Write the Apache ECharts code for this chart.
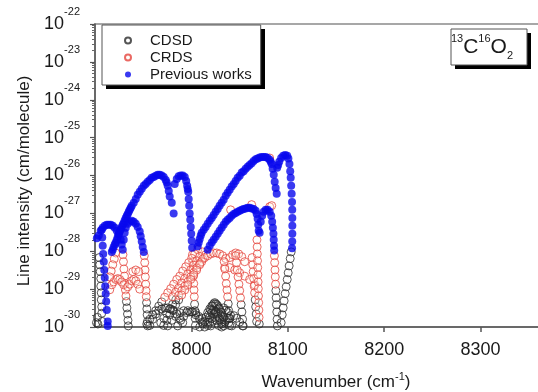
<!DOCTYPE html>
<html>
<head>
<meta charset="utf-8">
<script src="https://cdn.jsdelivr.net/npm/echarts@6/dist/echarts.min.js"></script>
<style>
html,body{margin:0;padding:0;background:#fff;}
#chart{width:538px;height:392px;}
</style>
</head>
<body>
<div id="chart"></div>
<script>
// ---------- axis ticks ----------
const xTicks = [8000, 8100, 8200, 8300];
const yDecades = [-30, -29, -28, -27, -26, -25, -24, -23, -22]; // labels 10^n

// ---------- Previous works (blue) : [wavenumber cm-1, intensity cm/molecule] ----------
const prevSteep = [[7907.0,3.7e-28],[7907.5,2.3e-28],[7908.0,1.4e-28],[7908.5,8.5e-29],[7909.1,5.3e-29],[7909.6,3.2e-29],[7910.1,2.0e-29],[7910.6,1.2e-29],[7911.1,7.6e-30],[7911.6,4.7e-30],[7912.2,2.8e-30],[7913.2,1.4e-30],[7913.2,1.07e-30]];
const prevSmallP = [[7901.9,2.2e-28],[7903.9,2.6e-28],[7905.9,3.5e-28],[7908.0,4.2e-28],[7910.1,4.7e-28],[7912.2,5.0e-28],[7914.2,5.0e-28],[7916.3,5.0e-28],[7918.4,4.7e-28],[7920.5,4.2e-28],[7922.6,3.5e-28],[7924.6,2.8e-28],[7926.7,2.0e-28],[7927.7,1.5e-28],[7928.8,1.1e-28]];
const prevSmallR = [[7929.8,2.0e-28],[7930.8,3.1e-28],[7931.9,4.2e-28],[7934.0,5.3e-28],[7936.0,6.0e-28],[7938.1,6.4e-28],[7940.2,6.0e-28],[7942.3,5.3e-28],[7944.3,4.4e-28],[7946.4,3.3e-28],[7947.4,2.5e-28],[7948.5,1.8e-28],[7949.5,1.3e-28],[7950.6,9.6e-29]];
const prevBand1P = [[7917.4,9.6e-29],[7918.4,1.1e-28],[7919.4,1.3e-28],[7920.5,1.5e-28],[7921.5,1.7e-28],[7922.6,2.0e-28],[7923.6,2.4e-28],[7924.6,2.8e-28],[7925.7,3.3e-28],[7926.7,3.8e-28],[7927.7,4.4e-28],[7928.8,5.0e-28],[7929.8,5.6e-28],[7930.8,6.5e-28],[7931.9,7.6e-28],[7933.0,8.6e-28],[7934.0,9.7e-28],[7935.0,1.1e-27],[7936.0,1.24e-27],[7937.1,1.4e-27],[7938.1,1.6e-27],[7940.2,1.9e-27],[7942.3,2.4e-27],[7944.3,3.1e-27],[7946.4,3.7e-27],[7948.5,4.5e-27],[7950.6,5.4e-27],[7952.6,6.0e-27],[7954.7,6.8e-27],[7956.8,7.6e-27],[7958.8,8.7e-27],[7960.9,9.1e-27],[7963.0,9.8e-27],[7965.1,1.04e-26],[7967.1,1.04e-26],[7969.2,1.0e-26],[7971.3,9.1e-27],[7973.4,7.6e-27],[7974.4,6.5e-27],[7975.4,5.4e-27],[7976.5,3.9e-27],[7977.5,2.8e-27],[7979.6,1.9e-27],[7981.6,1.0e-27]];
const prevBand1R = [[7982.7,6.0e-27],[7984.8,8.1e-27],[7986.8,9.6e-27],[7988.9,1.0e-26],[7991.0,1.0e-26],[7993.1,9.1e-27],[7994.6,7.2e-27],[7995.6,5.4e-27],[7996.2,4.4e-27],[7996.7,3.7e-27],[7997.2,2.4e-27],[7997.7,1.6e-27],[7998.2,1.0e-27],[7998.8,6.8e-28],[7999.3,4.4e-28],[7999.8,2.9e-28],[8000.3,1.9e-28],[8000.8,1.24e-28]];
const prevBand2P = [[8006.5,1.35e-28],[8007.6,1.7e-28],[8008.6,2.1e-28],[8009.7,2.6e-28],[8010.7,3.1e-28],[8012.8,3.7e-28],[8014.8,4.4e-28],[8016.9,5.3e-28],[8019.0,6.4e-28],[8021.1,7.6e-28],[8023.1,9.1e-28],[8025.2,1.1e-27],[8027.3,1.3e-27],[8029.3,1.6e-27],[8031.4,1.9e-27],[8033.5,2.3e-27],[8035.6,2.9e-27],[8037.6,3.5e-27],[8039.7,4.2e-27],[8041.8,5.1e-27],[8043.9,6.0e-27],[8045.9,7.2e-27],[8048.0,8.7e-27],[8050.1,9.8e-27],[8052.2,1.2e-26],[8054.2,1.3e-26],[8056.3,1.5e-26],[8058.4,1.7e-26],[8060.4,1.9e-26],[8062.5,2.1e-26],[8064.6,2.4e-26],[8066.7,2.7e-26],[8068.7,2.8e-26],[8070.8,3.0e-26],[8072.9,3.1e-26],[8075.0,3.1e-26],[8077.1,3.1e-26],[8079.1,2.9e-26],[8081.2,2.6e-26],[8082.3,2.3e-26],[8083.3,2.0e-26],[8084.3,1.5e-26],[8085.4,1.04e-26],[8086.4,6.8e-27],[8087.4,4.7e-27],[8088.5,3.3e-27]];
const prevBand2R = [[8089.0,1.6e-26],[8090.0,1.9e-26],[8091.1,2.3e-26],[8093.1,2.9e-26],[8095.2,3.3e-26],[8097.3,3.5e-26],[8099.4,3.3e-26],[8100.6,2.8e-26],[8101.7,2.0e-26],[8102.5,1.3e-26],[8103.0,8.7e-27],[8103.5,5.4e-27],[8104.0,3.3e-27],[8104.4,2.0e-27],[8104.6,1.24e-27],[8104.7,7.6e-28],[8104.7,4.7e-28],[8104.7,2.9e-28],[8104.6,1.8e-28],[8104.4,1.2e-28]];
const prevBand3P = [[8016.9,1.1e-28],[8019.0,1.4e-28],[8021.1,1.7e-28],[8023.1,2.0e-28],[8025.2,2.4e-28],[8027.3,2.9e-28],[8029.3,3.5e-28],[8031.4,4.2e-28],[8033.5,5.0e-28],[8035.6,6.0e-28],[8037.6,6.8e-28],[8039.7,7.6e-28],[8041.8,8.6e-28],[8043.9,9.7e-28],[8045.9,1.03e-27],[8048.0,1.1e-27],[8050.1,1.17e-27],[8052.2,1.24e-27],[8054.2,1.3e-27],[8056.3,1.35e-27],[8058.4,1.4e-27],[8060.4,1.4e-27],[8062.5,1.35e-27],[8064.6,1.3e-27],[8066.7,1.17e-27],[8067.7,9.7e-28],[8068.7,7.2e-28],[8069.3,5.0e-28],[8069.8,3.5e-28],[8070.8,3.1e-28]];
const prevBand3R = [[8071.9,6.0e-28],[8073.4,8.6e-28],[8075.0,1.1e-27],[8077.1,1.24e-27],[8079.1,1.24e-27],[8081.2,1.1e-27],[8082.8,8.6e-28],[8083.8,6.0e-28],[8084.5,4.2e-28],[8085.1,2.9e-28],[8085.4,2.0e-28],[8085.7,1.4e-28],[8085.9,1.05e-28]];

// ---------- CRDS (red) ----------
const crdsA = [[7929.0,8.1e-29],[7929.5,5.3e-29],[7930.0,3.4e-29],[7930.6,2.2e-29],[7931.1,1.4e-29],[7931.6,9.5e-30],[7932.1,6.6e-30]];
const crdsB = [[7951.1,7.6e-29],[7951.6,5.0e-29],[7951.9,3.2e-29],[7952.2,2.1e-29],[7952.6,1.35e-29],[7952.9,9.1e-30],[7953.2,6.3e-30]];
const crdsWeakLeft = [[7915.3,9.6e-30],[7917.4,1.3e-29],[7919.4,1.55e-29],[7921.5,1.8e-29],[7923.6,1.9e-29],[7925.7,1.8e-29],[7927.7,1.55e-29],[7929.8,1.3e-29],[7934.0,1.15e-29],[7936.0,1.35e-29],[7938.1,1.65e-29],[7940.2,1.8e-29],[7942.3,1.65e-29],[7944.3,1.35e-29],[7946.4,1.0e-29]];
const crdsLeftExtra = [[7921.5,9.0e-29],[7920.0,6.3e-29],[7918.4,4.4e-29],[7916.8,3.0e-29],[7915.3,2.1e-29],[7939.2,2.9e-29],[7942.3,3.2e-29],[7945.4,2.9e-29]];
const crdsE = [[8001.1,8.1e-29],[8001.5,5.3e-29],[8001.8,3.4e-29],[8002.1,2.2e-29],[8002.4,1.4e-29],[8002.7,9.5e-30],[8003.0,6.3e-30]];
const crdsF = [[8006.5,1.1e-28],[8003.4,8.5e-29],[8000.3,6.5e-29],[7997.2,5.0e-29],[7994.1,3.9e-29],[7991.0,3.0e-29],[7987.9,2.2e-29],[7984.8,1.8e-29],[7981.6,1.35e-29],[7978.5,1.03e-29],[7975.4,8.0e-30],[7972.3,6.1e-30]];
const crdsMid = [[8011.7,9.6e-29],[8008.6,7.3e-29],[8005.5,5.6e-29],[8002.4,4.3e-29],[7999.3,3.2e-29],[7996.2,2.5e-29],[7993.1,1.9e-29],[7989.9,1.45e-29],[7986.8,1.07e-29],[7983.7,8.3e-30],[7980.6,6.3e-30]];
const crdsG = [[8014.8,8.1e-29],[8011.7,6.2e-29],[8008.6,4.7e-29],[8005.5,3.6e-29],[8002.4,2.7e-29],[7999.3,2.1e-29],[7996.2,1.55e-29],[7993.1,1.2e-29],[7989.9,9.1e-30],[7986.8,6.8e-30]];
const crdsH = [[8010.7,5.3e-29],[8013.8,6.8e-29],[8016.9,7.6e-29],[8020.0,8.5e-29],[8023.1,9.0e-29],[8026.2,9.0e-29],[8029.3,8.5e-29],[8032.4,7.6e-29],[8035.6,6.4e-29],[8039.7,6.8e-29],[8042.8,8.1e-29],[8045.9,9.0e-29],[8049.0,8.5e-29],[8052.2,7.2e-29],[8055.3,5.3e-29]];
const crdsI = [[8008.6,4.4e-29],[8005.5,3.2e-29],[8002.4,2.4e-29],[7999.3,1.8e-29],[7996.2,1.3e-29],[7993.1,9.5e-30],[7989.9,7.0e-30]];
const crdsJ = [[8034.5,3.7e-29],[8039.7,3.7e-29],[8044.9,3.2e-29],[8050.1,2.7e-29],[8055.3,2.2e-29],[8060.4,1.8e-29],[8065.6,1.3e-29]];
const crdsK = [[8034.0,5.3e-29],[8034.7,3.4e-29],[8035.5,2.2e-29],[8036.2,1.4e-29],[8036.9,9.5e-30],[8037.6,6.3e-30]];
const crdsL = [[8045.9,7.6e-29],[8046.8,5.0e-29],[8047.6,3.2e-29],[8048.4,2.1e-29],[8049.3,1.35e-29],[8050.1,9.1e-30],[8050.9,5.9e-30]];
const crdsL2 = [[8063.0,6.8e-29],[8063.6,4.4e-29],[8064.1,2.9e-29],[8064.6,1.9e-29],[8065.1,1.2e-29],[8065.6,8.0e-30]];
const crdsM = [[8068.0,2.0e-28],[8068.2,1.3e-28],[8068.4,8.5e-29],[8068.6,5.6e-29],[8068.8,3.7e-29],[8069.0,2.4e-29],[8069.2,1.55e-29],[8069.4,1.03e-29],[8069.6,6.6e-30],[8069.8,4.4e-30],[8070.0,2.8e-30],[8070.2,1.8e-30]];
const crdsN = [[8086.1,7.6e-29],[8086.4,5.0e-29],[8086.7,3.2e-29],[8087.0,2.1e-29],[8087.3,1.35e-29]];
const crdsPeaks = [[8040.7,1.24e-27],[8062.5,1.7e-27],[8081.2,2.9e-26],[8081.2,1.5e-27],[8083.3,1.6e-27]];

// ---------- CDSD (black) ----------
const cdsdLeft = [[7901.5,1.3e-30],[7902.5,1.8e-30],[7903.0,1.2e-30],[7904.4,6.8e-29],[7904.9,4.4e-29],[7905.4,2.9e-29],[7906.0,1.9e-29],[7906.0,1.2e-29],[7906.5,8.0e-30],[7906.5,5.2e-30],[7907.0,3.4e-30],[7907.0,2.3e-30],[7907.5,1.4e-30]];
const cdsdTailA = [[7932.6,4.7e-30],[7933.1,3.2e-30],[7933.7,2.2e-30],[7934.2,1.5e-30],[7934.5,1.07e-30]];
const cdsdTailB = [[7953.5,4.4e-30],[7953.8,3.0e-30],[7954.1,2.1e-30],[7954.4,1.4e-30],[7954.7,1.07e-30]];
const cdsdTailE = [[8003.3,4.0e-30],[8003.6,2.7e-30],[8003.9,1.7e-30],[8004.2,1.1e-30]];
const cdsdTailF = [[7969.2,4.6e-30],[7966.1,3.55e-30],[7963.0,2.7e-30],[7959.9,2.1e-30],[7956.8,1.6e-30],[7953.7,1.2e-30]];
const cdsdTailG = [[7983.7,5.2e-30],[7980.6,4.0e-30],[7977.5,3.0e-30],[7974.4,2.3e-30],[7971.3,1.7e-30],[7968.2,1.3e-30]];
const cdsdTailI = [[7986.8,5.2e-30],[7983.7,3.9e-30],[7980.6,2.8e-30],[7977.5,2.1e-30],[7974.4,1.5e-30],[7971.3,1.1e-30]];
const cdsdTailK = [[8038.2,4.1e-30],[8038.7,2.7e-30],[8039.2,1.7e-30],[8039.7,1.1e-30]];
const cdsdTailL = [[8051.6,3.9e-30],[8052.4,2.5e-30],[8053.1,1.6e-30],[8053.7,1.07e-30]];
const cdsdTailL2 = [[8066.2,5.2e-30],[8066.7,3.4e-30],[8067.2,2.2e-30],[8067.7,1.4e-30]];
const cdsdTailM = [[8070.4,1.2e-30]];
const cdsdTailN = [[8087.6,9.1e-30],[8087.9,5.9e-30],[8088.2,3.9e-30],[8088.6,2.5e-30],[8088.9,1.6e-30],[8089.2,1.07e-30]];
const cdsdRight = [[8103.5,9.6e-29],[8102.5,6.4e-29],[8101.4,4.1e-29],[8100.4,2.7e-29],[8099.4,1.8e-29],[8098.3,1.15e-29],[8097.3,7.6e-30],[8096.2,4.9e-30],[8095.2,3.2e-30],[8094.2,2.1e-30],[8093.1,1.3e-30]];
const cdsdArchA = [[7956.8,1.1e-30],[7959.9,1.6e-30],[7963.0,2.2e-30],[7966.1,2.7e-30],[7969.2,3.0e-30],[7972.3,3.2e-30],[7975.4,3.2e-30],[7978.5,3.0e-30],[7981.6,2.7e-30],[7984.8,2.2e-30],[7987.9,1.7e-30],[7991.0,1.3e-30]];
const cdsdArchB = [[7975.4,1.07e-30],[7979.6,1.5e-30],[7983.7,1.9e-30],[7987.9,2.4e-30],[7992.0,2.7e-30],[7996.2,2.7e-30],[8000.3,2.5e-30],[8004.5,2.1e-30],[8008.6,1.6e-30],[8011.7,1.2e-30]];
const cdsdArchC = [[7985.8,1.07e-30],[7988.9,1.5e-30],[7992.0,1.9e-30],[7995.1,2.4e-30],[7998.2,2.5e-30],[8001.4,2.5e-30],[8004.5,2.4e-30],[8007.6,1.9e-30],[8010.7,1.7e-30],[8013.8,1.4e-30],[8016.9,1.1e-30]];
const cdsdArchD = [[8008.6,1.0e-30],[8011.7,1.35e-30],[8014.8,1.8e-30],[8016.9,2.4e-30],[8019.0,3.0e-30],[8021.1,3.6e-30],[8023.1,4.1e-30],[8025.2,4.1e-30],[8027.3,3.6e-30],[8029.3,3.0e-30],[8031.4,2.4e-30],[8033.5,1.8e-30],[8035.6,1.5e-30],[8038.7,1.3e-30],[8041.8,1.07e-30]];
const cdsdArchD2 = [[8013.8,1.0e-30],[8016.9,1.35e-30],[8019.0,1.8e-30],[8021.1,2.4e-30],[8023.1,2.8e-30],[8025.2,2.6e-30],[8027.3,2.2e-30],[8029.3,1.7e-30],[8031.4,1.35e-30],[8033.5,1.07e-30],[8020.0,1.07e-30],[8022.1,1.4e-30],[8024.2,1.8e-30],[8026.2,1.5e-30],[8028.3,1.1e-30]];
const cdsdMound = [[8017.9,2.1e-30],[8020.0,2.8e-30],[8022.1,3.6e-30],[8024.2,4.4e-30],[8026.2,3.9e-30],[8028.3,3.2e-30],[8030.4,2.5e-30],[8032.5,1.9e-30],[8021.1,1.7e-30],[8023.1,2.2e-30],[8025.2,2.5e-30],[8027.3,1.9e-30],[8029.3,1.5e-30],[8019.0,1.35e-30],[8031.4,1.2e-30],[8035.6,2.8e-30],[8037.6,2.4e-30],[8039.7,1.7e-30],[8033.5,3.2e-30]];
const cdsdArchE = [[8031.4,1.0e-30],[8034.5,1.35e-30],[8037.6,1.7e-30],[8040.7,2.0e-30],[8043.9,2.0e-30],[8047.0,1.7e-30],[8050.1,1.35e-30],[8053.2,1.07e-30]];

const prevData = [].concat(prevSteep, prevSmallP, prevSmallR, prevBand1P, prevBand1R, prevBand2P, prevBand2R, prevBand3P, prevBand3R);
const crdsData = [].concat(crdsA, crdsB, crdsWeakLeft, crdsLeftExtra, crdsE, crdsF, crdsMid, crdsG, crdsH, crdsI, crdsJ, crdsK, crdsL, crdsL2, crdsM, crdsN, crdsPeaks);
const cdsdData = [].concat(cdsdLeft, cdsdTailA, cdsdTailB, cdsdTailE, cdsdTailF, cdsdTailG, cdsdTailI, cdsdTailK, cdsdTailL, cdsdTailL2, cdsdTailM, cdsdTailN, cdsdRight, cdsdArchA, cdsdArchB, cdsdArchC, cdsdArchD, cdsdArchD2, cdsdMound, cdsdArchE);

// log-decade minor tick positions (exponent space) for the tick-only axis
const minorPos = [];
for (let i = 0; i < yDecades.length - 1; i++) {
  for (let k = 2; k <= 9; k++) minorPos.push(yDecades[i] + Math.log10(k));
}

const FONT = '"Liberation Sans", Arial, sans-serif';
const TXT = '#1a1a1a';
const chart = echarts.init(document.getElementById('chart'), null, {renderer: 'canvas'});

chart.setOption({
  animation: false,
  backgroundColor: '#ffffff',
  textStyle: {fontFamily: FONT, color: TXT},
  grid: {left: 95, top: 24, width: 482, height: 303, show: true, borderColor: '#8a8a8a', borderWidth: 1.5,
    backgroundColor: 'transparent', containLabel: false, outerBoundsMode: 'none'},
  legend: {
    orient: 'vertical', left: 102, top: 25, z: 10,
    padding: [8, 9, 3, 22], itemGap: 2,
    itemWidth: 30, itemHeight: 6,
    backgroundColor: '#ffffff', borderColor: '#555', borderWidth: 1,
    textStyle: {fontFamily: FONT, fontSize: 15, color: TXT, lineHeight: 15, padding: [0, 0, 0, 2]},
    selectedMode: false,
    data: [{name: 'CDSD', icon: 'circle'}, {name: 'CRDS', icon: 'circle'}, {name: 'Previous works', icon: 'circle'}]
  },
  xAxis: {
    type: 'value', min: 7900, max: 8400, interval: 100,
    name: 'Wavenumber (cm{s|-1})', nameLocation: 'middle', nameGap: 44,
    nameTextStyle: {fontFamily: FONT, fontSize: 17, color: TXT, rich: {s: {fontSize: 11, padding: [0, 0, 12, 0], fontFamily: FONT, color: TXT}}},
    axisLine: {show: true, onZero: false, lineStyle: {color: '#555', width: 1.5}},
    axisTick: {show: true, length: 5, lineStyle: {color: '#555', width: 1.5}},
    axisLabel: {margin: 14, fontSize: 18, color: TXT, fontFamily: FONT, showMinLabel: false,
      formatter: function (v) { return xTicks.indexOf(v) >= 0 ? String(v) : ''; }},
    splitLine: {show: false}
  },
  yAxis: [
    { // data axis (logarithmic), drawn invisibly
      type: 'log', logBase: 10, min: 1e-30, max: 1e-22,
      axisLine: {show: false}, axisTick: {show: false}, axisLabel: {show: false}, splitLine: {show: false}
    },
    { // decade ticks + labels, in exponent units
      type: 'value', min: -30, max: -22, interval: 1, position: 'left',
      name: 'Line intensity (cm/molecule)', nameLocation: 'middle', nameGap: 58,
      nameTextStyle: {fontFamily: FONT, fontSize: 17, color: TXT, padding: [0, 11, 0, 0]},
      axisLine: {show: true, onZero: false, lineStyle: {color: '#555', width: 1.5}},
      axisTick: {show: true, length: 5, lineStyle: {color: '#555', width: 1.2}},
      axisLabel: {
        margin: 15, fontFamily: FONT, color: TXT,
        formatter: function (v) { return '{b|10}{s|' + String(Math.round(v)) + '}'; },
        rich: {
          b: {fontSize: 18, fontFamily: FONT, color: TXT},
          s: {fontSize: 11, fontFamily: FONT, color: TXT, padding: [0, 0, 24, 0]}
        }
      },
      splitLine: {show: false}
    },
    { // minor ticks at 2..9 x 10^n
      type: 'value', min: -30, max: -22, position: 'left',
      axisLine: {show: false},
      axisTick: {show: true, length: 3, customValues: minorPos, lineStyle: {color: '#666', width: 1}},
      axisLabel: {show: false}, splitLine: {show: false}
    }
  ],
  graphic: [
    {type: 'rect', shape: {x: 106, y: 29, width: 159, height: 60}, style: {fill: '#000'}, z: 1},
    {type: 'rect', shape: {x: 455, y: 33, width: 76, height: 36}, style: {fill: '#000'}, z: 100},
    {type: 'rect', shape: {x: 451, y: 29, width: 76, height: 36}, style: {fill: '#fff', stroke: '#555', lineWidth: 1}, z: 101},
    {type: 'text', x: 482, y: 47, z: 102,
      style: {text: '{sup|13}{big|C}{sup|16}{big|O}{sub|2}', align: 'center', verticalAlign: 'middle',
        rich: {
          big: {fontSize: 21, fontFamily: FONT, fill: TXT},
          sup: {fontSize: 11, fontFamily: FONT, fill: TXT, padding: [0, 0, 16, 0]},
          sub: {fontSize: 11, fontFamily: FONT, fill: TXT, padding: [18, 0, 0, 0]}
        }}}
  ],
  series: [
    {name: 'CDSD', type: 'scatter', yAxisIndex: 0, data: cdsdData, symbol: 'circle', symbolSize: 8,
      itemStyle: {color: 'rgba(255,255,255,0)', borderColor: '#2a2a2a', borderWidth: 1}},
    {name: 'CRDS', type: 'scatter', yAxisIndex: 0, data: crdsData, symbol: 'circle', symbolSize: 8,
      itemStyle: {color: 'rgba(255,250,240,0.35)', borderColor: '#e5443c', borderWidth: 1}},
    {name: 'Previous works', type: 'scatter', yAxisIndex: 0, data: prevData, symbol: 'circle', symbolSize: 8,
      itemStyle: {color: '#0808ee'}}
  ]
});
</script>
</body>
</html>
